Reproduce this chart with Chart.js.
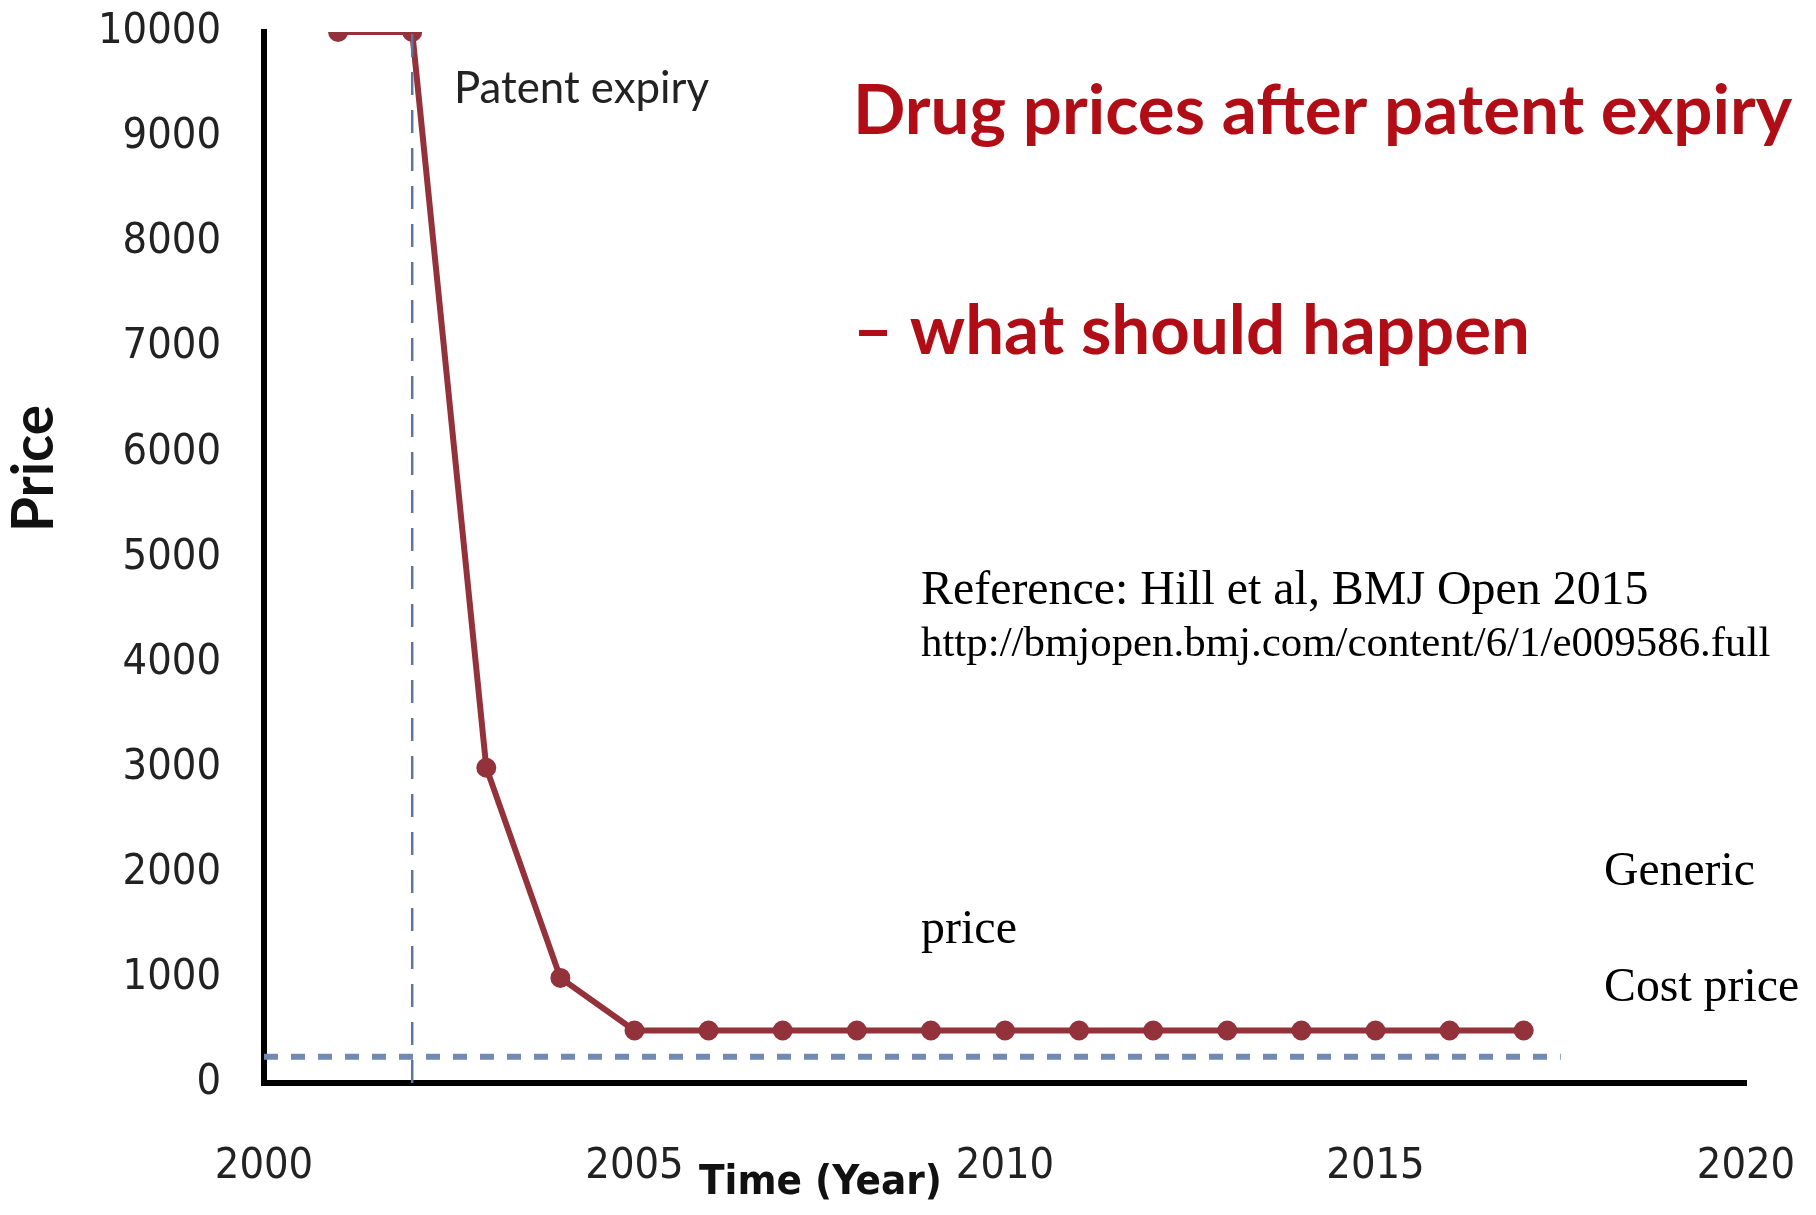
<!DOCTYPE html>
<html>
<head>
<meta charset="utf-8">
<script src="https://cdn.jsdelivr.net/npm/chart.js@4.4.0/dist/chart.umd.min.js"></script>
<style>
  body { margin: 0; background: #fff; }
</style>
</head>
<body>
<canvas id="priceChart" width="1816" height="1215"></canvas>
<script>
// data
const years = [2001, 2002, 2003, 2004, 2005, 2006, 2007, 2008, 2009, 2010, 2011, 2012, 2013, 2014, 2015, 2016, 2017];
const genericPrice = [10000, 10000, 3000, 1000, 500, 500, 500, 500, 500, 500, 500, 500, 500, 500, 500, 500, 500];
const costPriceYears = [2000, 2017.5];
const costPrice = [250, 250];
const patentExpiryYear = [2002, 2002];
const patentExpiryPrice = [0, 10000];
const xTicks = [2000, 2005, 2010, 2015, 2020];
const yTicks = [0, 1000, 2000, 3000, 4000, 5000, 6000, 7000, 8000, 9000, 10000];

const tickFont = "'DejaVu Sans Condensed', 'DejaVu Sans', sans-serif";

// draws text scaled so it fills the given width
function fitText(ctx, text, x, y, width, weight, family, color) {
  ctx.font = weight + " 100px " + family;
  const size = 100 * width / ctx.measureText(text).width;
  ctx.font = weight + " " + size.toFixed(1) + "px " + family;
  ctx.fillStyle = color;
  ctx.textBaseline = "middle";
  ctx.textAlign = "left";
  ctx.fillText(text, x, y);
}

const labelsPlugin = {
  id: "labels",
  afterDraw(chart) {
    const ctx = chart.ctx;
    ctx.save();
    fitText(ctx, "Drug prices after patent expiry", 853, 112, 939, "bold", "Lato, sans-serif", "#b00d16");
    fitText(ctx, "\u2013 what should happen", 853, 332, 677, "bold", "Lato, sans-serif", "#b00d16");
    fitText(ctx, "Patent expiry", 454, 89, 255, "normal", "Lato, sans-serif", "#222");
    fitText(ctx, "Reference: Hill et al, BMJ Open 2015", 921, 591, 727, "normal", "'Liberation Serif', serif", "#000");
    fitText(ctx, "http://bmjopen.bmj.com/content/6/1/e009586.full", 921, 645, 849, "normal", "'Liberation Serif', serif", "#000");
    fitText(ctx, "Generic", 1604, 872, 151, "normal", "'Liberation Serif', serif", "#000");
    fitText(ctx, "price", 921, 930, 96, "normal", "'Liberation Serif', serif", "#000");
    fitText(ctx, "Cost price", 1604, 988, 195, "normal", "'Liberation Serif', serif", "#000");
    fitText(ctx, "Time (Year)", 699, 1183, 243, "bold", tickFont, "#111");

    // rotated y axis title
    ctx.translate(35, 469);
    ctx.rotate(-Math.PI / 2);
    fitText(ctx, "Price", -63, 0, 127, "bold", "Lato, sans-serif", "#111");
    ctx.restore();
  }
};

var priceCanvas = document.getElementById("priceChart").getContext("2d");
var priceChart = new Chart(priceCanvas, {
  type: "line",
  data: {
    datasets: [
      {
        label: "Cost price",
        data: costPriceYears.map((x, i) => ({ x: x, y: costPrice[i] })),
        borderColor: "#7289b4",
        borderWidth: 6,
        borderDash: [14, 13],
        pointRadius: 0,
      },
      {
        label: "Patent expiry",
        data: patentExpiryYear.map((x, i) => ({ x: x, y: patentExpiryPrice[i] })),
        borderColor: "#5d75a3",
        borderWidth: 2.5,
        borderDash: [23, 15],
        pointRadius: 0,
      },
      {
        label: "Generic price",
        data: years.map((x, i) => ({ x: x, y: genericPrice[i] })),
        borderColor: "#93323a",
        backgroundColor: "#93323a",
        borderWidth: 6,
        pointRadius: 7,
        pointHoverRadius: 7,
      },
    ],
  },
  options: {
    responsive: false,
    animation: false,
    devicePixelRatio: 1,
    layout: {
      padding: { top: 32, right: 70, left: 0, bottom: 0 },
    },
    plugins: {
      legend: { display: false },
      tooltip: { enabled: false },
    },
    scales: {
      x: {
        type: "linear",
        min: 2000,
        max: 2020,
        afterBuildTicks: (scale) => { scale.ticks = xTicks.map((v) => ({ value: v })); },
        afterFit: (scale) => {
          scale.height = 132;
          scale.paddingLeft = 0;
          scale.paddingRight = 0;
        },
        grid: { display: false },
        border: { display: true, color: "#000", width: 6 },
        ticks: {
          padding: 50,
          color: "#222",
          font: { family: tickFont, size: 43 },
          callback: (v) => String(v),
        },
      },
      y: {
        min: 0,
        max: 10000,
        afterBuildTicks: (scale) => { scale.ticks = yTicks.map((v) => ({ value: v })); },
        afterFit: (scale) => {
          scale.width = 264;
          scale.paddingTop = 0;
          scale.paddingBottom = 0;
        },
        grid: { display: false },
        border: { display: true, color: "#000", width: 6 },
        ticks: {
          padding: 35,
          color: "#222",
          font: { family: tickFont, size: 43 },
          callback: (v) => String(v),
        },
      },
    },
  },
  plugins: [labelsPlugin],
});
</script>
</body>
</html>
